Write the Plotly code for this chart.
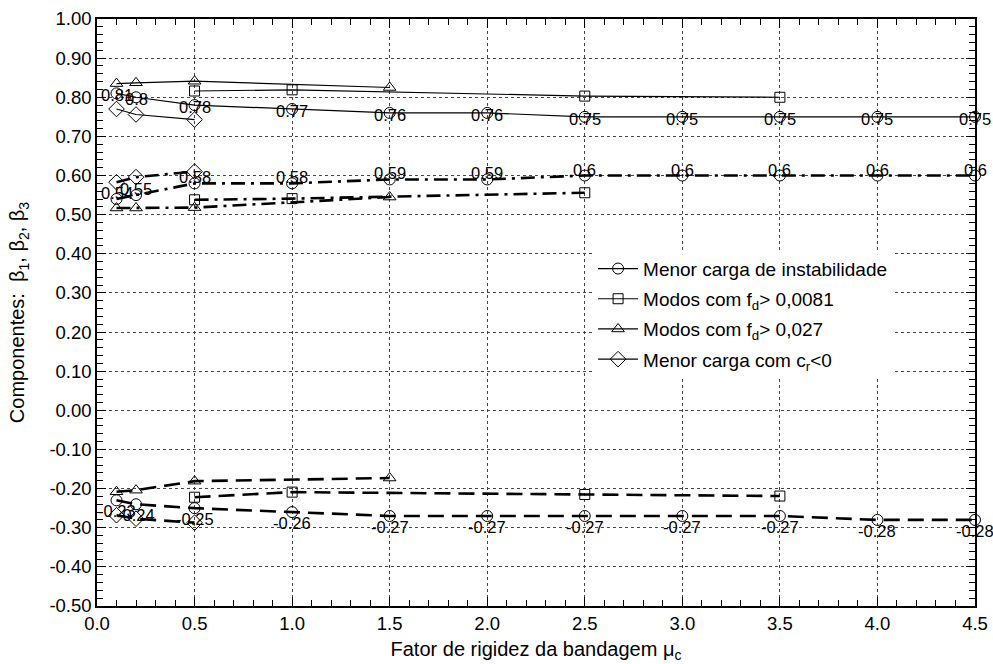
import plotly.graph_objects as go

# Fator de rigidez da bandagem (mu_c) sampled by each family of modes
mu_circ = [0.1, 0.2, 0.5, 1.0, 1.5, 2.0, 2.5, 3.0, 3.5, 4.0, 4.5]
mu_sq = [0.5, 1.0, 2.5, 3.5]
mu_tri = [0.1, 0.2, 0.5, 1.5]
mu_dia = [0.1, 0.2, 0.5]

# Menor carga de instabilidade
circ_b1 = [0.81, 0.80, 0.78, 0.77, 0.76, 0.76, 0.75, 0.75, 0.75, 0.75, 0.75]
circ_b2 = [0.54, 0.55, 0.58, 0.58, 0.59, 0.59, 0.60, 0.60, 0.60, 0.60, 0.60]
circ_b3 = [-0.23, -0.24, -0.25, -0.26, -0.27, -0.27, -0.27, -0.27, -0.27, -0.28, -0.28]

# Modos com f_d > 0,0081
sq_b1 = [0.816, 0.819, 0.803, 0.800]
sq_b2 = [0.538, 0.541, 0.556, None]
sq_b3 = [-0.222, -0.209, -0.215, -0.219]

# Modos com f_d > 0,027
tri_b1 = [0.835, 0.837, 0.841, 0.825]
tri_b2 = [0.517, 0.517, 0.518, 0.545]
tri_b3 = [-0.208, -0.204, -0.181, -0.173]

# Menor carga com c_r < 0
dia_b1 = [0.770, 0.756, 0.743]
dia_b2 = [0.583, 0.596, 0.610]
dia_b3 = [-0.268, -0.277, -0.287]

# axis tick values
x_ticks = [0.0, 0.5, 1.0, 1.5, 2.0, 2.5, 3.0, 3.5, 4.0, 4.5]
y_ticks = [-0.5, -0.4, -0.3, -0.2, -0.1, 0.0, 0.1, 0.2, 0.3, 0.4, 0.5,
           0.6, 0.7, 0.8, 0.9, 1.0]

series = [
    ("Menor carga de instabilidade", "circle-open", 11, mu_circ, [circ_b1, circ_b2, circ_b3]),
    ("Modos com f<sub>d</sub>> 0,0081", "square-open", 10, mu_sq, [sq_b1, sq_b2, sq_b3]),
    ("Modos com f<sub>d</sub>> 0,027", "triangle-up-open", 11, mu_tri, [tri_b1, tri_b2, tri_b3]),
    ("Menor carga com c<sub>r</sub><0", "diamond-open", 12, mu_dia, [dia_b1, dia_b2, dia_b3]),
]

# beta_1 solid, beta_2 dash-dot, beta_3 dashed
line_styles = [
    dict(color="black", width=1.2, dash="solid"),
    dict(color="black", width=2.6, dash="14px,6px,3px,6px"),
    dict(color="black", width=2.6, dash="16px,8px"),
]

FONT = "Liberation Sans, Arial, Helvetica, sans-serif"

fig = go.Figure()
for gi, (name, sym, size, xs, comps) in enumerate(series):
    for ci, ys in enumerate(comps):
        fig.add_trace(go.Scatter(
            x=xs, y=ys, mode="lines+markers",
            name=name, legendgroup=f"g{gi}", showlegend=(ci == 0),
            line=line_styles[ci],
            marker=dict(symbol=sym, size=size, color="black",
                        line=dict(width=1, color="black")),
            cliponaxis=False,
        ))

# value labels on the lowest buckling load curve
label_shift = [-2, 6, -11]
for ci, ys in enumerate([circ_b1, circ_b2, circ_b3]):
    for xv, yv in zip(mu_circ, ys):
        fig.add_annotation(
            x=xv, y=yv, text=format(round(yv, 2), "g"), showarrow=False,
            yshift=label_shift[ci], font=dict(family=FONT, size=16.5, color="black"),
        )

axis_common = dict(
    showline=True, linecolor="black", linewidth=1.5, mirror="allticks",
    ticks="inside", ticklen=9, tickwidth=1.2, tickcolor="black",
    showgrid=True, gridcolor="#444", gridwidth=1, griddash="dot",
    zeroline=False, automargin=False,
    tickfont=dict(family=FONT, size=18.5, color="black"),
)

fig.update_xaxes(
    range=[0, 4.5], tickmode="array", tickvals=x_ticks,
    ticktext=[f"{v:.1f}" for v in x_ticks],
    title=dict(text="Fator de rigidez da bandagem μ<sub>c</sub>",
               font=dict(family=FONT, size=20, color="black"), standoff=9),
    minor=dict(dtick=0.1, tick0=0, ticks="inside", ticklen=6, tickcolor="black", showgrid=False),
    **axis_common,
)
fig.update_yaxes(
    range=[-0.5, 1.0], tickmode="array", tickvals=y_ticks,
    ticktext=[f"{v:.2f}" for v in y_ticks],
    title=dict(text="Componentes:\u00a0 β<sub>1</sub>, β<sub>2</sub>, β<sub>3</sub>",
               font=dict(family=FONT, size=20, color="black"), standoff=19),
    minor=dict(dtick=0.02, tick0=0, ticks="inside", ticklen=6, tickcolor="black", showgrid=False),
    **axis_common,
)

fig.update_layout(
    width=993, height=664,
    margin=dict(l=97, r=18, t=19, b=58),
    paper_bgcolor="white", plot_bgcolor="white",
    font=dict(family=FONT, color="black"),
    showlegend=True,
    legend=dict(
        x=0.565, y=0.607, xanchor="left", yanchor="top",
        bgcolor="white", borderwidth=0, tracegroupgap=2.5,
        font=dict(family=FONT, size=19, color="black"),
        itemwidth=40,
    ),
)

fig.write_html("out.html")
